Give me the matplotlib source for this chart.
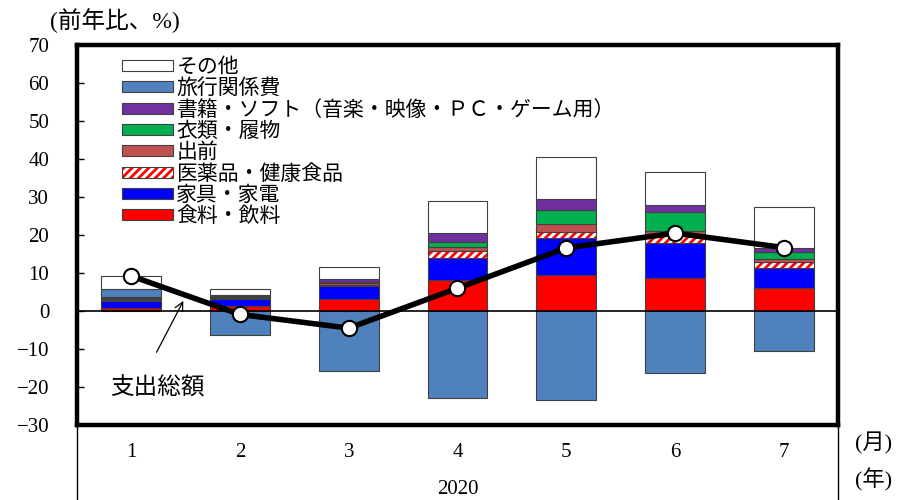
import matplotlib
matplotlib.use("Agg")
import matplotlib.pyplot as plt
import numpy as np
from matplotlib.patches import Patch
from matplotlib.legend_handler import HandlerTuple
from matplotlib.lines import Line2D

plt.rcParams['font.family'] = ['Liberation Serif', 'Noto Sans CJK JP', 'DejaVu Sans']
plt.rcParams['hatch.linewidth'] = 2.0
plt.rcParams['axes.unicode_minus'] = True

# Contributions to year-on-year change (percentage points), 2020
months = ['1', '2', '3', '4', '5', '6', '7']
year_label = '2020'
food = [0.8, 1.2, 3.2, 8.2, 9.6, 8.7, 6.1]
furniture = [1.9, 1.9, 3.4, 5.7, 9.5, 9.3, 5.3]
medicine = [0.3, 0.3, 0.3, 1.9, 1.8, 2.3, 1.6]
delivery = [0.2, 0.3, 0.5, 1.1, 1.9, 0.8, 0.8]
clothing = [0.2, 0.2, 0.3, 1.3, 3.8, 5.0, 1.6]
books = [0.3, 0.3, 0.7, 2.4, 2.9, 1.8, 1.3]
travel = [2.0, -6.3, -15.8, -23.0, -23.5, -16.2, -10.5]
other = [3.5, 1.5, 3.1, 8.3, 10.9, 8.8, 10.7]
total = [9.2, -0.9, -4.5, 6.0, 16.6, 20.5, 16.7]

series_names = ['食料・飲料', '家具・家電', '医薬品・健康食品', '出前',
                '衣類・履物', '書籍・ソフト（音楽・映像・ＰＣ・ゲーム用）',
                '旅行関係費', 'その他']
series_values = [food, furniture, medicine, delivery, clothing, books, travel, other]
series_colors = ['#FF0000', '#0000FF', 'white', '#C0504D',
                 '#00B050', '#7030A0', '#4F81BD', 'white']
hatched_index = 2

fig = plt.figure(figsize=(9, 5), dpi=100)
ax = fig.add_axes([77 / 900, 75 / 500, 761 / 900, 380 / 500])

x = np.arange(len(months))
width = 0.55
edge = '#404040'
pos_base = np.zeros(len(months))
neg_base = np.zeros(len(months))
handles = {}
for i, (name, vals, col) in enumerate(zip(series_names, series_values, series_colors)):
    v = np.array(vals, dtype=float)
    bottoms = np.where(v >= 0, pos_base, neg_base)
    if i == hatched_index:
        ax.bar(x, v, width, bottom=bottoms, color='white', edgecolor='#FF0000',
               hatch='////', linewidth=0, zorder=2)
        ax.bar(x, v, width, bottom=bottoms, facecolor='none', edgecolor=edge,
               linewidth=0.8, zorder=2)
        handles[name] = (Patch(facecolor='white', edgecolor='#FF0000', hatch='////', linewidth=0),
                         Patch(facecolor='none', edgecolor=edge, linewidth=0.8))
    else:
        ax.bar(x, v, width, bottom=bottoms, color=col, edgecolor=edge,
               linewidth=0.8, zorder=2)
        handles[name] = Patch(facecolor=col, edgecolor=edge, linewidth=0.8)
    pos_base = pos_base + np.where(v >= 0, v, 0)
    neg_base = neg_base + np.where(v < 0, v, 0)

ax.axhline(0, color='black', linewidth=1.2, zorder=3)

ax.plot(x, total, color='black', linewidth=4.0, marker='o', markersize=11,
        markerfacecolor='white', markeredgecolor='black', markeredgewidth=1.5,
        zorder=5)

ax.annotate('', xy=(0.49, 3.3), xytext=(0.22, -11.5),
            arrowprops=dict(arrowstyle='->,head_length=0.6,head_width=0.3',
                            lw=0.9, color='black'), zorder=4)
ax.text(0.24, -20.3, '支出総額', fontsize=17, ha='center', va='center')

ax.set_xlim(-0.5, len(months) - 0.5)
ax.set_ylim(-30, 70)
ax.set_yticks(np.arange(-30, 71, 10))
ax.tick_params(axis='y', direction='in', length=5, width=1, labelsize=15, pad=20)
ax.set_xticks(x)
ax.set_xticklabels(months)
ax.tick_params(axis='x', length=0, labelsize=15, pad=13)
for s in ax.spines.values():
    s.set_linewidth(3.2)

order = ['その他', '旅行関係費', '書籍・ソフト（音楽・映像・ＰＣ・ゲーム用）', '衣類・履物',
         '出前', '医薬品・健康食品', '家具・家電', '食料・飲料']
leg = ax.legend([handles[n] for n in order], order, loc='upper left',
                bbox_to_anchor=(0.043, 0.997), frameon=False, fontsize=15,
                handlelength=2.45, handleheight=0.42, handletextpad=0.15,
                labelspacing=0.08, borderpad=0.1,
                handler_map={tuple: HandlerTuple(ndivide=1)})

fig.text(50 / 900, 1 - 21 / 500, '(前年比、%)', fontsize=17, ha='left', va='center')
fig.text(855 / 900, 1 - 443 / 500, '(月)', fontsize=16, ha='left', va='center')
fig.text(855 / 900, 1 - 480 / 500, '(年)', fontsize=16, ha='left', va='center')
fig.text(458 / 900, 1 - 490 / 500, year_label, fontsize=15, ha='center', va='center')

for xp in (77 / 900, 838 / 900):
    fig.add_artist(Line2D([xp, xp], [0, 75 / 500], color='black', linewidth=1.0,
                          transform=fig.transFigure))

fig.savefig('out.png', dpi=100)
